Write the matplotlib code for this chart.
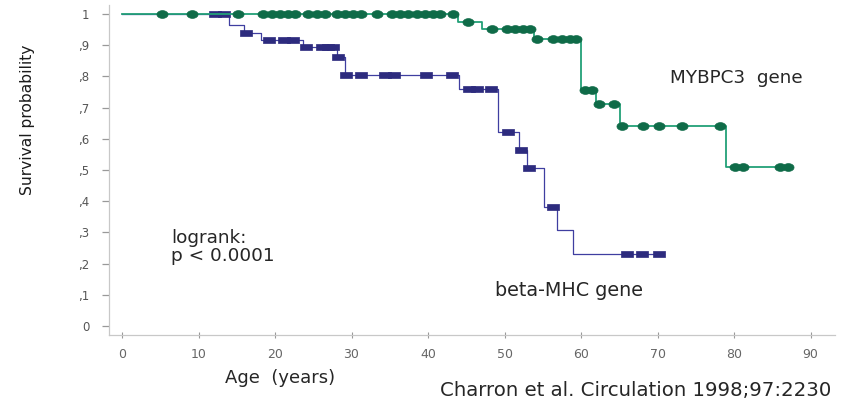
import numpy as np
import matplotlib
matplotlib.use("Agg")
import matplotlib.pyplot as plt
from matplotlib.path import Path

# ---------------- data ----------------
# MYBPC3 gene (green): Kaplan-Meier step times (years) and survival after each step
mybpc3_times = [0, 43.9, 47.0, 53.9, 60.0, 62.0, 65.1, 79.0]
mybpc3_surv = [1.0, 0.975, 0.951, 0.919, 0.758, 0.71, 0.641, 0.511]
mybpc3_end = 87.3
mybpc3_censored = [5.2, 9.2, 15.2, 18.4, 19.6, 20.6, 21.7, 22.6, 24.3, 25.5, 26.5,
                   28.1, 29.2, 30.2, 31.3, 33.3, 35.3, 36.3, 37.4, 38.5, 39.6, 40.7,
                   41.6, 43.3, 45.2, 48.3, 50.3, 51.4, 52.4, 53.3, 54.2, 56.3, 57.5,
                   58.6, 59.4, 60.5, 61.4, 62.3, 64.3, 65.3, 68.1, 70.2, 73.2, 78.2,
                   80.1, 81.2, 86.0, 87.0]

# beta-MHC gene (blue)
bmhc_times = [0, 14.0, 16.0, 18.2, 23.7, 28.1, 29.2, 44.0, 49.1, 51.9, 52.9, 55.1, 56.8, 58.9]
bmhc_surv = [1.0, 0.965, 0.94, 0.918, 0.893, 0.863, 0.804, 0.761, 0.621, 0.565, 0.507,
             0.38, 0.308, 0.232]
bmhc_end = 70.8
bmhc_censored = [12.2, 13.3, 16.2, 19.2, 21.2, 22.3, 24.1, 26.1, 26.9, 27.6, 28.2, 29.3,
                 31.3, 34.4, 35.5, 39.8, 43.1, 45.4, 46.4, 48.2, 50.4, 52.2, 53.2, 56.3,
                 66.0, 68.0, 70.2]

x_ticks = [0, 10, 20, 30, 40, 50, 60, 70, 80, 90]
y_ticks = [0, 0.1, 0.2, 0.3, 0.4, 0.5, 0.6, 0.7, 0.8, 0.9, 1.0]
y_tick_labels = ["0", ",1", ",2", ",3", ",4", ",5", ",6", ",7", ",8", ",9", "1"]

GREEN_LINE = "#22a077"
GREEN_MK = "#0f6b48"
BLUE_LINE = "#3f3ea0"
BLUE_MK = "#2d2b7e"

# ---------------- figure ----------------
W, H = 857, 404
fig = plt.figure(figsize=(W / 100, H / 100), dpi=100)
ax = fig.add_axes([109 / W, 1 - 335 / H, (835 - 109) / W, (335 - 5) / H])
ax.set_xlim(-1.7, 93.2)
ax.set_ylim(-0.029, 1.029)


def km_value(times, surv, t):
    idx = np.searchsorted(times, t, side="right") - 1
    return np.asarray(surv)[idx]


def draw_km(times, surv, end, censored, lcolor, mcolor, lw, marker, ms, z):
    xs = list(times) + [end]
    ys = list(surv) + [surv[-1]]
    ax.step(xs, ys, where="post", color=lcolor, lw=lw, zorder=z)
    cv = [km_value(times, surv, c) for c in censored]
    ax.plot(censored, cv, linestyle="none", marker=marker, markersize=ms,
            markerfacecolor=mcolor, markeredgecolor=mcolor, markeredgewidth=0.5,
            zorder=z + 1)


theta = np.linspace(0, 2 * np.pi, 40)
ellipse = Path(np.column_stack([np.cos(theta), 0.7 * np.sin(theta)]))
rect = Path([(-1, -0.62), (1, -0.62), (1, 0.62), (-1, 0.62), (-1, -0.62)],
            [Path.MOVETO, Path.LINETO, Path.LINETO, Path.LINETO, Path.CLOSEPOLY])

draw_km(bmhc_times, bmhc_surv, bmhc_end, bmhc_censored, BLUE_LINE, BLUE_MK, 0.9, rect, 8, 3)
draw_km(mybpc3_times, mybpc3_surv, mybpc3_end, mybpc3_censored, GREEN_LINE, GREEN_MK, 1.3,
        ellipse, 8, 5)

# axes styling
for s in ["top", "right"]:
    ax.spines[s].set_visible(False)
for s in ["left", "bottom"]:
    ax.spines[s].set_color("#c8c8c8")
    ax.spines[s].set_linewidth(0.9)

ax.set_yticks(y_ticks)
ax.set_yticklabels(y_tick_labels)
ax.set_xticks(x_ticks)
ax.set_xticklabels([str(v) for v in x_ticks])
ax.tick_params(axis="y", direction="out", length=5, width=0.9, color="#999999",
               labelsize=8.5, labelcolor="#555555", pad=9)
ax.tick_params(axis="x", direction="inout", length=4, width=0.8, color="#999999",
               labelsize=9, labelcolor="#666666", pad=7)

# texts
TXT = dict(family="DejaVu Sans", color="#262626", ha="left", va="center")
fig.text(28 / W, 1 - 120 / H, "Survival probability", rotation=90, ha="center", va="center",
         fontsize=11.2, family="Liberation Sans Narrow", color="#1a1a1a")
fig.text(225 / W, 1 - 378 / H, "Age  (years)", fontsize=13, **TXT)
fig.text(440 / W, 1 - 391 / H, "Charron et al. Circulation 1998;97:2230", fontsize=14.2, **TXT)
fig.text(670 / W, 1 - 78 / H, "MYBPC3  gene", fontsize=13.2, **TXT)
fig.text(495 / W, 1 - 291 / H, "beta-MHC gene", fontsize=13.8, **TXT)
fig.text(171 / W, 1 - 238 / H, "logrank:", fontsize=13.3, **TXT)
fig.text(171 / W, 1 - 256 / H, "p < 0.0001", fontsize=13.3, **TXT)

fig.savefig("out.png", dpi=100)
